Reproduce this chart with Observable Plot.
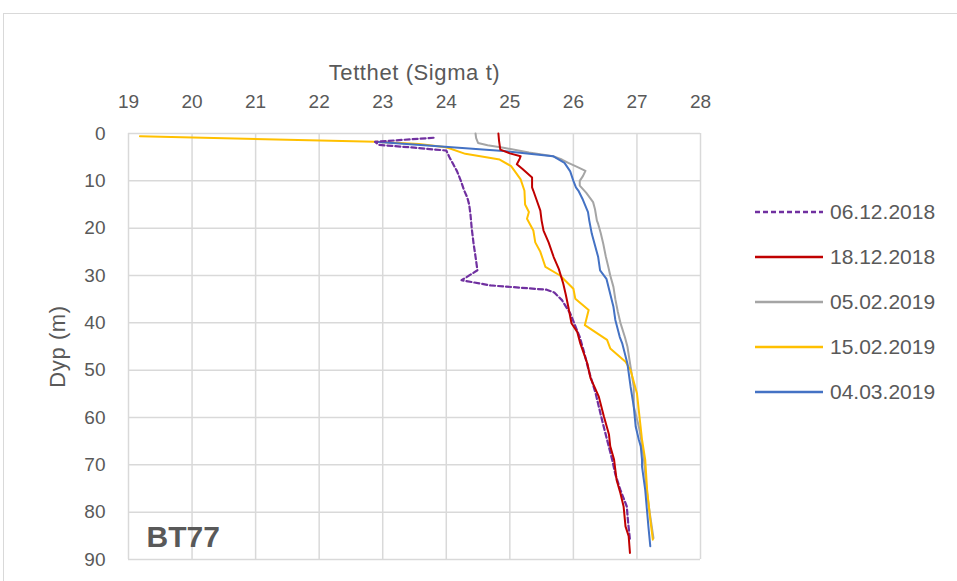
<!DOCTYPE html>
<html><head><meta charset="utf-8">
<script src="https://cdn.jsdelivr.net/npm/d3@7"></script>
<script src="https://cdn.jsdelivr.net/npm/@observablehq/plot@0.6"></script>
<style>
body{margin:0;background:#fff;font-family:"Liberation Sans",Arial,sans-serif;}
#wrap{position:relative;width:957px;height:581px;overflow:hidden;background:#fff;}
#chart{position:absolute;left:0;top:0;}
#frame{position:absolute;left:3px;top:13px;width:1200px;height:1200px;border:1.5px solid #d9d9d9;pointer-events:none;}
.lg{position:absolute;left:755px;height:24px;display:flex;align-items:center;font-size:21px;color:#595959;}
.lg svg{display:block;margin-right:7px;}
.ttl{letter-spacing:0.6px;}
</style></head><body>
<div id="wrap"><div id="chart"></div><div id="legend"></div><div id="frame"></div></div>
<script>
const xTitle = "Tetthet (Sigma t)";
const yTitle = "Dyp (m)";
const station = "BT77";
const xTicks = [19, 20, 21, 22, 23, 24, 25, 26, 27, 28];
const yTicks = [0, 10, 20, 30, 40, 50, 60, 70, 80, 90];
const seriesNames = ["06.12.2018", "18.12.2018", "05.02.2019", "15.02.2019", "04.03.2019"];
const seriesColors = ["#7030A0", "#C00000", "#A5A5A5", "#FFC000", "#4472C4"];

// 06.12.2018
const depth1 = [0.9, 1.75, 2.4, 3.0, 3.6, 5, 6.5, 8, 10, 12, 13.5, 15, 17, 20, 23.3, 26, 28.9, 31, 32.1, 33, 33.6, 35.2, 38, 40, 43, 45.8, 50, 54.9, 60.5, 64.7, 68.9, 72, 75.3, 78.8, 82, 85.8];
const dens1  = [23.8, 22.88, 22.94, 23.5, 24.0, 24.05, 24.11, 24.17, 24.23, 24.28, 24.33, 24.36, 24.38, 24.40, 24.43, 24.46, 24.49, 24.24, 24.70, 25.58, 25.7, 25.82, 25.95, 26.01, 26.10, 26.16, 26.24, 26.35, 26.45, 26.53, 26.61, 26.66, 26.74, 26.84, 26.86, 26.89];
// 18.12.2018
const depth2 = [0, 1.5, 3.4, 4.2, 4.8, 5.5, 6.5, 7.5, 9.3, 11.4, 12.1, 14, 16.3, 18.4, 20.5, 23, 26.1, 28.6, 31.7, 34, 36.6, 40.1, 41.9, 44.4, 48.6, 51.7, 55.6, 59.8, 63.6, 66.1, 68.9, 73.2, 76, 78.8, 83, 85.1, 88.6];
const dens2  = [24.82, 24.83, 24.85, 25.0, 25.17, 25.15, 25.11, 25.2, 25.35, 25.35, 25.37, 25.42, 25.48, 25.5, 25.53, 25.61, 25.69, 25.77, 25.84, 25.88, 25.92, 25.97, 26.06, 26.11, 26.22, 26.27, 26.40, 26.48, 26.56, 26.58, 26.64, 26.68, 26.74, 26.79, 26.82, 26.87, 26.89];
// 05.02.2019
const depth3 = [0, 1, 2, 2.5, 3, 4, 4.8, 5.5, 6.2, 7, 7.9, 9, 10, 11, 12.5, 14.5, 16, 18.4, 19.1, 21, 23.3, 26, 28.2, 30, 32.4, 35, 37.7, 40, 43, 45, 49.3, 53.5, 57.7, 61.9, 65, 68.9, 75, 80, 85.5];
const dens3  = [24.46, 24.47, 24.5, 24.65, 24.9, 25.3, 25.68, 25.82, 25.92, 26.05, 26.19, 26.15, 26.1, 26.1, 26.2, 26.31, 26.34, 26.37, 26.39, 26.43, 26.47, 26.51, 26.55, 26.58, 26.63, 26.66, 26.70, 26.74, 26.81, 26.85, 26.90, 26.95, 26.95, 27.03, 27.07, 27.11, 27.15, 27.2, 27.26];
// 15.02.2019
const depth4 = [0.6, 1.75, 2.2, 2.9, 4.3, 5.5, 6.9, 8, 9.7, 12.1, 15, 16.6, 18, 20.5, 23, 25, 28.2, 30, 32.8, 34.9, 37.3, 40.5, 43.6, 45.4, 48.2, 50, 54.9, 64.7, 68.9, 75.3, 81.6, 85.8];
const dens4  = [19.18, 22.88, 23.57, 24.0, 24.3, 24.84, 25.02, 25.08, 25.17, 25.23, 25.24, 25.30, 25.27, 25.37, 25.4, 25.48, 25.56, 25.79, 26.0, 26.03, 26.24, 26.18, 26.53, 26.58, 26.82, 26.90, 27.0, 27.08, 27.13, 27.16, 27.21, 27.25];
// 04.03.2019
const depth5 = [1.75, 2.7, 3.7, 4.8, 6.2, 8, 10, 11.4, 12.1, 14, 16.6, 18.4, 21.2, 26.1, 28.9, 30.7, 36.6, 39.4, 43, 44.4, 48.6, 53.5, 57.7, 61.9, 64.7, 66.1, 68.9, 70.4, 75.3, 83, 87.2];
const dens5  = [22.88, 23.87, 24.9, 25.68, 25.86, 25.95, 26.0, 26.04, 26.08, 26.15, 26.23, 26.25, 26.29, 26.39, 26.42, 26.52, 26.63, 26.66, 26.73, 26.77, 26.85, 26.90, 26.95, 26.98, 27.03, 27.06, 27.08, 27.08, 27.13, 27.18, 27.21];

const depths = [depth1, depth2, depth3, depth4, depth5];
const dens = [dens1, dens2, dens3, dens4, dens5];
const dashes = ["5,3", null, null, null, null];
const widths = [2.2, 2, 2, 2, 2];
const drawOrder = [2, 3, 4, 0, 1];

const lineMarks = drawOrder.map(i => {
  const rows = depths[i].map((d, k) => ({d, v: dens[i][k]}));
  return Plot.line(rows, {x: "v", y: "d", stroke: seriesColors[i], strokeWidth: widths[i], strokeDasharray: dashes[i] || undefined, curve: "linear"});
});

const chart = Plot.plot({
  width: 957, height: 581,
  marginLeft: 128, marginRight: 257, marginTop: 133, marginBottom: 22,
  x: {domain: [19, 28]},
  y: {domain: [0, 90], reverse: true},
  style: {fontFamily: '"Liberation Sans", Arial, sans-serif', fontSize: "19px", color: "#595959", background: "transparent"},
  marks: [
    Plot.gridX(xTicks, {stroke: "#d9d9d9", strokeOpacity: 1, strokeWidth: 1.5}),
    Plot.gridY(yTicks, {stroke: "#d9d9d9", strokeOpacity: 1, strokeWidth: 1.5}),
    Plot.axisX(xTicks, {anchor: "top", tickSize: 0, tickPadding: 26, label: null, fill: "#595959"}),
    Plot.axisY(yTicks, {anchor: "left", tickSize: 0, tickPadding: 23, label: null, fill: "#595959"}),
    Plot.text([xTitle], {frameAnchor: "top", textAnchor: "middle", dy: -69, fontSize: 22, fill: "#595959", className: "ttl"}),
    Plot.text([yTitle], {frameAnchor: "left", textAnchor: "middle", dx: -71, rotate: -90, fontSize: 22, fill: "#595959", className: "ttl"}),
    ...lineMarks,
    Plot.text([station], {frameAnchor: "bottom-left", textAnchor: "start", lineAnchor: "bottom", dx: 18, dy: -13, fontSize: 30, fontWeight: "bold", fill: "#595959"})
  ]
});
document.getElementById("chart").appendChild(chart);

const legendTops = [212, 257, 302, 347, 392];
const lg = document.getElementById("legend");
seriesNames.forEach((name, i) => {
  const div = document.createElement("div");
  div.className = "lg";
  div.style.top = (legendTops[i] - 12) + "px";
  div.innerHTML = `<svg width="68" height="4"><line x1="0" y1="2" x2="68" y2="2" stroke="${seriesColors[i]}" stroke-width="2.5" ${dashes[i] ? `stroke-dasharray="${dashes[i]}"` : ""}/></svg><span>${name}</span>`;
  lg.appendChild(div);
});
</script>
</body></html>
